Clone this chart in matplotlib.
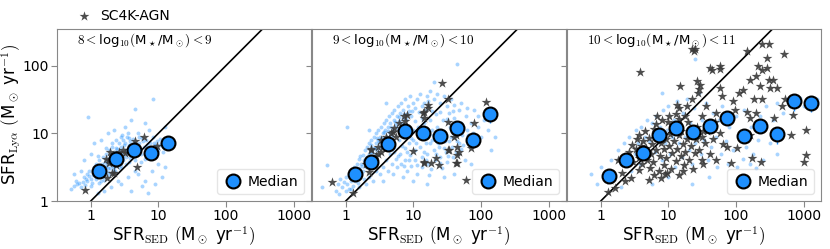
import numpy as np
import matplotlib
matplotlib.use("Agg")
import matplotlib.pyplot as plt
from matplotlib.ticker import FixedLocator, FixedFormatter, NullLocator

plt.rcParams["mathtext.fontset"] = "cm"

# -------------------------------------------------------------------
# DATA  (log10 SFR_SED, log10 SFR_Lya)
# -------------------------------------------------------------------
mass_bins = [r"$8<$log$_{10}$$($M$_\star$/M$_\odot$$)$$<9$",
             r"$9<$log$_{10}$$($M$_\star$/M$_\odot$$)$$<10$",
             r"$10<$log$_{10}$$($M$_\star$/M$_\odot$$)$$<11$"]

p1_lae = [(-0.30,0.18),(-0.25,0.22),(-0.20,0.25),(-0.22,0.30),(-0.15,0.20),(-0.12,0.28),(-0.10,0.35),
          (-0.08,0.24),(-0.05,0.30),(-0.05,0.40),(-0.02,0.45),(0.00,0.33),(0.02,0.27),(0.03,0.38),
          (0.05,0.50),(0.06,0.42),(0.08,0.32),(0.08,0.55),(0.10,0.45),(0.11,0.38),(0.12,0.60),(0.13,0.50),
          (0.15,0.42),(0.15,0.30),(0.17,0.55),(0.18,0.65),(0.19,0.47),(0.20,0.38),(0.21,0.58),(0.22,0.70),
          (0.23,0.50),(0.24,0.62),(0.25,0.43),(0.26,0.55),(0.27,0.75),(0.28,0.65),(0.29,0.48),(0.30,0.58),
          (0.31,0.68),(0.32,0.80),(0.33,0.52),(0.34,0.62),(0.35,0.72),(0.36,0.45),(0.37,0.66),(0.38,0.78),
          (0.39,0.58),(0.40,0.70),(0.41,0.85),(0.42,0.62),(0.43,0.74),(0.44,0.52),(0.45,0.80),(0.46,0.68),
          (0.47,0.90),(0.48,0.60),(0.50,0.75),(0.51,0.85),(0.52,0.65),(0.53,0.95),(0.55,0.72),(0.56,0.82),
          (0.57,0.58),(0.58,0.88),(0.60,0.78),(0.62,0.68),(0.63,0.92),(0.65,0.82),(0.66,0.60),(0.68,0.75),
          (0.70,1.00),(0.72,0.85),(0.74,0.70),(0.75,0.93),(0.78,0.80),(0.80,0.62),(0.82,0.90),(0.84,0.76),
          (0.86,1.05),(0.88,0.85),(0.90,0.72),(0.92,0.95),(0.95,0.82),(0.98,0.88),(1.00,0.75),(1.02,0.92),
          (1.05,0.85),(1.08,0.80),(1.12,0.88),(1.18,0.85),(0.45,0.25),(0.55,0.35),(0.60,0.15),(0.70,0.40),
          (0.75,0.22),(0.80,0.30),(0.85,0.12),(0.90,0.45),(0.95,0.25),(1.00,0.55),(1.05,0.35),(1.10,0.50),
          (0.65,0.45),(0.40,0.30),(0.30,0.20),(0.20,0.15),(0.10,0.12),(-0.15,0.45),(-0.25,0.40),(-0.10,0.60),
          (0.00,0.70),(0.05,0.85),(0.15,0.90),(0.25,1.00),(0.35,1.05),(0.50,1.10),(0.60,1.20),(0.65,1.36),
          (0.92,1.50),(-0.04,1.24),(0.80,1.15),(1.10,1.10),(0.45,0.95),(0.55,1.00),(0.38,0.90),
          (0.03,0.41),(0.07,0.36),(0.14,0.47),(0.09,0.52),(0.18,0.44),(0.21,0.51),(0.16,0.36),(0.26,0.49),
          (0.31,0.57),(0.24,0.58),(0.34,0.49),(0.29,0.64),(0.36,0.69),(0.41,0.59),(0.44,0.71),(0.39,0.77),
          (0.47,0.66),(0.53,0.71),(0.49,0.82),(0.57,0.77),(0.61,0.72),(0.64,0.86),(0.69,0.81),(0.73,0.77),
          (0.77,0.88),(0.83,0.83),(0.87,0.79),(0.93,0.86),(0.97,0.79),(1.03,0.83),(-0.18,0.27),(-0.07,0.33),
          (-0.02,0.37),(0.01,0.22),(0.12,0.27),(0.19,0.31),(0.27,0.39),(0.33,0.44),(0.43,0.48),(0.52,0.55),
          (0.58,0.63),(0.66,0.67),(0.74,0.58),(0.81,0.68),(0.88,0.66),(0.96,0.71),(1.07,0.72),(1.14,0.78),
          (0.11,0.66),(0.22,0.78),(0.31,0.86),(0.46,0.98),(0.56,0.93),(0.71,0.95)]

p1_agn = [(-0.08,0.16),(0.245,0.336),(0.34,0.41),(0.32,0.42),(0.27,0.56),(0.27,0.61),(0.29,0.73),
          (0.37,0.53),(0.42,0.72),(0.47,0.76),(0.51,0.71),(0.40,0.65),(0.69,0.50),(0.79,0.95),
          (0.66,0.88),(0.98,0.81),(0.33,0.66),(0.22,0.62)]

p2_lae = [(-0.15,0.15),(-0.12,0.25),(-0.10,0.10),(-0.08,0.32),(-0.05,0.20),(-0.03,0.28),(0.00,0.15),
          (0.00,0.35),(0.02,0.25),(0.04,0.40),(0.05,0.18),(0.07,0.30),(0.08,0.45),(0.10,0.22),(0.10,0.38),
          (0.12,0.50),(0.13,0.30),(0.15,0.42),(0.16,0.55),(0.18,0.35),(0.19,0.48),(0.20,0.62),(0.22,0.40),
          (0.23,0.55),(0.25,0.68),(0.26,0.45),(0.27,0.60),(0.28,0.75),(0.30,0.50),(0.31,0.65),(0.32,0.80),
          (0.33,0.55),(0.34,0.70),(0.35,0.85),(0.36,0.60),(0.37,0.72),(0.38,0.90),(0.40,0.65),(0.41,0.78),
          (0.42,0.95),(0.43,0.70),(0.44,0.85),(0.45,1.00),(0.46,0.75),(0.47,0.90),(0.48,1.05),(0.50,0.80),
          (0.51,0.95),(0.52,1.10),(0.53,0.85),(0.55,1.00),(0.56,1.15),(0.57,0.90),(0.58,1.05),(0.60,1.20),
          (0.61,0.95),(0.62,1.10),(0.64,1.25),(0.65,1.00),(0.66,1.15),(0.68,1.30),(0.70,1.05),(0.71,1.20),
          (0.72,1.35),(0.74,1.12),(0.75,1.25),(0.77,1.40),(0.78,1.18),(0.80,1.30),(0.82,1.45),(0.84,1.22),
          (0.85,1.35),(0.88,1.50),(0.90,1.28),(0.92,1.40),(0.95,1.55),(0.98,1.33),(1.00,1.45),(1.05,1.50),
          (1.10,1.58),(1.15,1.45),(1.20,1.55),(1.25,1.62),(1.30,1.50),(1.35,1.58),(1.40,1.45),(1.45,1.55),
          (1.50,1.40),(1.55,1.50),(1.60,1.42),(1.70,1.45),(1.80,1.38),(1.90,1.35),(1.95,1.25),
          (0.20,0.20),(0.30,0.25),(0.35,0.35),(0.40,0.30),(0.45,0.45),(0.50,0.40),(0.55,0.50),(0.55,0.30),
          (0.60,0.60),(0.62,0.45),(0.65,0.70),(0.68,0.55),(0.70,0.40),(0.72,0.80),(0.74,0.62),(0.75,0.50),
          (0.78,0.90),(0.80,0.70),(0.82,0.55),(0.84,0.35),(0.85,0.95),(0.87,0.78),(0.88,0.60),(0.90,0.45),
          (0.92,1.00),(0.94,0.85),(0.95,0.68),(0.97,0.52),(1.00,1.05),(1.00,0.90),(1.02,0.75),(1.03,0.60),
          (1.05,0.40),(1.07,1.10),(1.08,0.95),(1.10,0.80),(1.12,0.65),(1.13,0.50),(1.15,1.15),(1.17,1.00),
          (1.18,0.85),(1.20,0.70),(1.22,0.55),(1.23,0.38),(1.25,1.20),(1.27,1.05),(1.28,0.90),(1.30,0.75),
          (1.32,0.60),(1.34,1.28),(1.35,1.10),(1.37,0.95),(1.38,0.80),(1.40,0.65),(1.42,0.48),(1.44,1.20),
          (1.45,1.02),(1.47,0.88),(1.48,0.72),(1.50,0.58),(1.52,1.30),(1.54,1.10),(1.55,0.95),(1.57,0.80),
          (1.58,0.65),(1.60,1.22),(1.62,1.05),(1.64,0.88),(1.66,0.70),(1.68,1.35),(1.70,1.15),(1.72,0.98),
          (1.74,0.82),(1.76,0.60),(1.78,1.25),(1.80,1.05),(1.82,0.90),(1.85,1.15),(1.88,1.00),(1.90,0.85),
          (1.95,1.10),(2.00,0.95),(2.05,1.20),(2.10,1.05),(1.00,0.30),(1.20,0.25),(1.45,0.35),(1.60,0.40),
          (1.85,0.55),(2.15,0.75),(2.20,0.95),(1.64,2.03),(0.02,1.10),(-0.28,0.53),(-0.35,0.20),
          (1.30,1.75),(0.60,1.45),(0.35,1.05),
          (0.06,0.37),(0.14,0.33),(0.17,0.47),(0.24,0.52),(0.21,0.66),(0.29,0.57),(0.33,0.63),(0.39,0.72),
          (0.37,0.82),(0.43,0.78),(0.46,0.93),(0.49,0.87),(0.54,0.93),(0.57,1.02),(0.59,0.87),(0.63,1.04),
          (0.67,1.09),(0.69,0.96),(0.73,1.17),(0.76,1.08),(0.79,1.24),(0.83,1.15),(0.86,1.29),(0.89,1.21),
          (0.93,1.33),(0.97,1.26),(1.03,1.38),(1.08,1.31),(1.13,1.41),(1.18,1.35),(0.71,0.73),(0.77,0.66),
          (0.83,0.81),(0.91,0.73),(0.96,0.93),(1.04,0.85),(1.11,0.97),(1.16,0.73),(1.24,0.86),(1.29,0.98),
          (1.36,0.86),(1.41,0.99),(1.46,0.79),(1.53,0.89),(1.59,1.01),(1.67,0.86),(1.73,1.09),(1.81,0.97),
          (0.86,0.52),(0.94,0.61),(1.06,0.53),(1.19,0.61),(1.26,0.47),(1.33,0.69),(1.39,0.56),(1.51,0.67),
          (1.63,0.73),(1.71,0.77),(1.27,1.33),(1.39,1.32),(1.49,1.21),(1.58,1.33),(1.22,1.47),(1.12,1.22),
          (1.02,1.18),(0.08,0.17),(0.27,0.33),(0.18,0.27)]

p2_agn = [(-0.21,0.28),(0.11,0.12),(0.34,0.43),(0.37,0.77),(0.44,0.66),(0.47,0.80),(0.52,0.73),
          (0.52,0.90),(0.59,0.95),(0.62,0.83),(0.67,1.00),(0.72,1.08),(0.74,0.95),(0.79,1.15),(0.81,1.03),
          (0.86,1.25),(0.91,1.27),(0.88,1.18),(0.56,0.85),(0.64,0.92),(0.70,1.02),(0.48,0.70),(0.40,0.60),
          (0.60,0.78),(1.14,1.30),(1.16,1.22),(1.21,1.37),(1.16,1.32),(1.21,1.42),(1.43,1.74),(1.51,1.51),
          (0.99,0.74),(1.15,0.57),(1.16,0.56),(1.26,0.56),(1.33,0.63),(1.38,0.53),(1.51,0.76),(1.53,0.76),
          (1.60,0.95),(1.63,0.98),(1.65,0.80),(1.65,0.68),(1.68,0.73),(1.63,0.56),(1.65,0.56),(1.85,0.78),
          (1.90,1.15),(1.78,0.31),(2.07,1.46),(1.51,1.17),(0.37,0.76),(0.30,0.55)]

p3_lae = [(-0.15,0.40),(-0.05,0.25),(0.00,0.50),(0.05,0.35),(0.10,0.45),(0.15,0.60),(0.20,0.40),
          (0.25,0.75),(0.30,0.55),(0.35,0.85),(0.40,0.62),(0.42,0.95),(0.45,0.45),(0.50,0.70),(0.52,1.05),
          (0.55,0.85),(0.58,0.55),(0.60,1.10),(0.62,0.78),(0.65,0.95),(0.68,1.20),(0.70,0.65),(0.72,0.88),
          (0.75,1.15),(0.78,1.00),(0.80,0.72),(0.82,1.25),(0.85,0.90),(0.88,1.10),(0.90,0.60),(0.92,1.35),
          (0.95,0.85),(0.98,1.05),(1.00,1.40),(1.02,0.70),(1.05,0.95),(1.08,1.20),(1.10,0.50),(1.12,1.48),
          (1.15,0.85),(1.18,1.10),(1.20,0.65),(1.22,1.30),(1.25,0.95),(1.28,1.50),(1.30,0.75),(1.32,1.15),
          (1.35,0.55),(1.38,1.38),(1.40,0.85),(1.42,1.05),(1.45,1.60),(1.48,0.70),(1.50,1.20),(1.52,0.90),
          (1.55,1.45),(1.58,0.60),(1.60,1.10),(1.63,0.80),(1.66,1.30),(1.70,0.95),(1.72,0.50),(1.75,1.20),
          (1.78,0.70),(1.80,1.40),(1.85,0.88),(1.88,0.55),(1.90,1.10),(1.95,0.75),(2.00,1.25),(2.02,0.50),
          (2.05,0.95),(2.10,0.62),(2.12,1.35),(2.15,0.80),(2.20,0.55),(2.22,1.10),(2.25,0.70),(2.30,0.48),
          (2.32,0.90),(2.35,1.25),(2.40,0.60),(2.42,1.05),(2.45,1.40),(2.50,0.85),(2.55,1.20),(2.60,1.45),
          (2.65,1.00),(2.70,1.30),(2.75,1.50),(2.80,1.40),(2.85,1.55),(2.90,1.45),(2.95,1.52),(3.00,1.40),
          (3.05,1.48),(3.10,1.45),(3.15,1.42),(3.20,1.50),(1.40,2.10),(0.90,1.60),(0.30,0.20),(0.75,0.25),
          (1.35,0.25),(1.00,0.35),(2.15,0.30),(1.60,0.35),(2.60,0.70)]

p3_agn = [(1.35,2.24),(1.38,2.22),(1.40,2.25),(0.58,1.90),(1.17,1.70),(1.42,1.77),(1.45,1.65),(1.47,1.72),
          (1.44,1.60),(1.61,1.97),(1.64,1.93),(1.76,1.95),(1.76,1.99),(1.76,1.67),(1.80,1.55),(2.17,2.22),
          (2.39,2.32),(2.49,2.32),(2.71,2.17),(2.32,1.99),(2.39,1.94),(2.46,2.11),(2.46,1.97),(2.49,1.79),
          (2.51,1.67),(2.61,1.67),(2.10,1.64),(2.20,1.79),(2.27,1.50),(2.39,1.50),(2.17,1.32),(2.29,1.30),
          (1.95,1.47),(1.98,1.35),(2.20,1.22),(2.56,1.22),(2.68,1.40),(2.73,1.50),(2.85,1.27),(2.81,0.98),
          (3.03,1.05),(3.03,0.68),(3.00,0.58),(2.37,0.58),(2.24,0.63),(1.93,0.56),(1.86,0.80),(2.02,0.78),
          (2.20,0.98),(1.49,0.61),(1.22,0.45),(0.98,0.42),(0.95,0.40),(0.44,0.34),(0.59,0.68),(0.63,0.66),
          (1.51,1.03),(1.13,1.42),(1.16,1.38),(1.35,1.50),(1.28,1.40),(0.83,1.25),(2.55,1.78),(2.35,1.70),
          (2.30,1.85),(2.05,1.60),(1.55,1.40),(1.70,1.30),(1.25,1.25),(1.50,1.25),
          (0.41,0.72),(0.46,0.83),(0.47,0.58),(0.52,0.77),(0.54,0.91),(0.56,0.63),(0.59,0.81),(0.57,0.97),
          (0.61,0.54),(0.64,0.73),(0.62,0.89),(0.66,1.03),(0.69,0.61),(0.67,0.79),(0.71,0.93),(0.73,0.49),
          (0.74,0.69),(0.76,0.84),(0.79,1.06),(0.77,0.57),(0.81,0.76),(0.84,0.94),(0.82,1.13),(0.86,0.44),
          (0.87,0.66),(0.89,0.86),(0.91,1.01),(0.93,0.53),(0.94,0.77),(0.96,0.91),(0.99,1.16),(0.97,0.63),
          (1.01,0.81),(1.03,0.99),(1.04,0.47),(1.06,0.71),(1.09,0.89),(1.07,1.11),(1.11,0.59),(1.13,0.77),
          (1.15,0.97),(1.16,1.21),(1.18,0.66),(1.21,0.84),(1.19,1.04),(1.23,0.53),(1.25,0.73),(1.27,0.91),
          (1.29,1.16),(1.31,0.61),(1.33,0.81),(1.35,0.99),(1.37,0.47),(1.39,0.71),(1.41,0.91),(1.43,1.09),
          (1.46,0.76),(1.49,0.94),(1.51,0.54),(1.54,0.86),(1.57,1.04),(1.61,0.69),(1.66,0.91),(1.71,0.61),
          (1.76,1.01),(1.81,0.84),(1.69,1.16),(0.91,1.19),(1.01,1.26),(1.11,1.29),(0.79,0.39),(0.89,0.34),
          (1.16,0.39),(0.71,0.31),(0.56,0.46),(0.36,0.56),(0.31,0.41),(0.26,0.61),(0.36,0.29),(0.13,0.31),
          (0.11,0.14),(0.21,0.19)]

# medians (linear units)
p1_med_x = [1.32, 2.36, 4.33, 7.7, 13.7]
p1_med_y = [2.81, 4.24, 5.7, 5.2, 7.2]
p1_med_err = [0.2, 0.3, 0.4, 0.5, 0.6]
p2_med_x = [1.36, 2.37, 4.19, 7.57, 13.7, 24.4, 43.6, 76, 137]
p2_med_y = [2.54, 3.82, 7.06, 10.9, 10.2, 9.2, 12.1, 7.9, 19]
p2_med_err = [0.2, 0.3, 0.5, 0.8, 0.9, 1.0, 1.5, 1.2, 5.0]
p3_med_x = [1.32, 2.38, 4.17, 7.3, 13, 23.2, 41.7, 73, 131, 228, 408, 724, 1283]
p3_med_y = [2.37, 4.0, 5.2, 9.5, 11.9, 10.6, 12.9, 16.8, 9.2, 12.8, 9.7, 29.6, 27.6]
p3_med_err = [0.2, 0.3, 0.5, 0.8, 1.2, 1.2, 1.5, 2.0, 1.8, 2.0, 2.8, 8.0, 7.0]

panels = [(p1_lae, p1_agn, p1_med_x, p1_med_y, p1_med_err),
          (p2_lae, p2_agn, p2_med_x, p2_med_y, p2_med_err),
          (p3_lae, p3_agn, p3_med_x, p3_med_y, p3_med_err)]

xticks = [1, 10, 100, 1000]
yticks = [1, 10, 100]

# -------------------------------------------------------------------
# PLOT
# -------------------------------------------------------------------
fig = plt.figure(figsize=(8.3, 2.49), dpi=100)
W, H = 830, 249
ax_w = 253.5
lefts = [57, 57 + ax_w + 1.5, 57 + 2 * (ax_w + 1.5)]

blue = "#1E90FF"
for i, (lae, agn, mx, my, me) in enumerate(panels):
    ax = fig.add_axes([lefts[i] / W, 1 - 201 / H, ax_w / W, 172 / H])
    lae = np.array(lae)
    agn = np.array(agn)

    ax.scatter(10 ** lae[:, 0], 10 ** lae[:, 1], s=8, color=blue, alpha=0.38,
               lw=0, zorder=1)
    ax.plot([0.1, 1e4], [0.1, 1e4], color="k", lw=1.2, zorder=2)
    st = ax.scatter(10 ** agn[:, 0], 10 ** agn[:, 1], s=55, marker="*",
                    color="#3a3a3a", alpha=0.9, lw=0, zorder=3)
    eb = ax.errorbar(mx, my, yerr=me, fmt="o", color=blue, ecolor=blue, mec="k",
                     mew=1.5, ms=10, elinewidth=1, zorder=4)

    ax.set_xscale("log")
    ax.set_yscale("log")
    ax.set_xlim(10 ** -0.5, 10 ** 3.25)
    ax.set_ylim(1, 10 ** 2.54)

    ax.xaxis.set_major_locator(FixedLocator(xticks))
    ax.xaxis.set_major_formatter(FixedFormatter([str(t) for t in xticks]))
    ax.xaxis.set_minor_locator(NullLocator())
    ax.yaxis.set_major_locator(FixedLocator(yticks))
    ax.yaxis.set_minor_locator(NullLocator())
    if i == 0:
        ax.yaxis.set_major_formatter(FixedFormatter([str(t) for t in yticks]))
        ax.set_ylabel(r"SFR$_{\rm Ly\alpha}$ $($M$_\odot$ yr$^{-1}$$)$", fontsize=12)
        ax.yaxis.set_label_coords(-34 / ax_w, 0.5)
    else:
        ax.yaxis.set_major_formatter(FixedFormatter(["", "", ""]))
    ax.set_xlabel(r"SFR$_{\rm SED}$ $($M$_\odot$ yr$^{-1}$$)$", fontsize=12, labelpad=1)
    ax.tick_params(labelsize=10, color="#888888", length=4, width=0.8, pad=2)
    for sp in ax.spines.values():
        sp.set_color("#888888")

    ax.text(0.08, 0.935, mass_bins[i], transform=ax.transAxes, fontsize=9.5,
            va="center", ha="left")

    ax.legend([eb], ["Median"], loc="lower right", fontsize=10,
              handletextpad=0.3, borderpad=0.4, framealpha=0.5, handlelength=1.5)

fig.legend([st], ["SC4K-AGN"], loc="center left", bbox_to_anchor=(70 / W, 1 - 16 / H),
           frameon=False, fontsize=10, handletextpad=0.6, handlelength=1.2, borderaxespad=0)

fig.savefig("out.png", dpi=100)
